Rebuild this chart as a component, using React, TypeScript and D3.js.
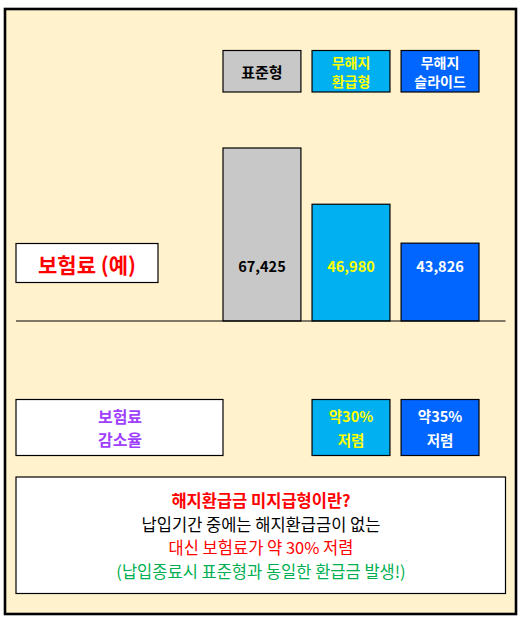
import React from "react";
import * as d3 from "d3";

// 상품 구분 (범례 박스에 두 줄로 표시)
const productNames: string[][] = [["표준형"], ["무해지", "환급형"], ["무해지", "슬라이드"]];
// 보험료 (예) 값
const premiums: number[] = [67425, 46980, 43826];
// 그림에 그려진 막대 높이 (표준형 = 100 기준, 그림에서 읽음)
const barLevels: number[] = [100, 67.5, 45];
// 보험료 감소율
const reductions: (string[] | null)[] = [null, ["약30%", "저렴"], ["약35%", "저렴"]];
const rowLabel = "보험료 (예)";
const reductionLabel = ["보험료", "감소율"];
const noteLines: string[] = [
  "해지환급금 미지급형이란?",
  "납입기간 중에는 해지환급금이 없는",
  "대신 보험료가 약 30% 저렴",
  "(납입종료시 표준형과 동일한 환급금 발생!)",
];

const W = 529;
const H = 623;
const FONT = "'Noto Sans CJK KR', 'Noto Sans', sans-serif";

const boxFill = ["#c8c8c8", "#00b0f0", "#0066ff"];
const textFill = ["#000000", "#ffff00", "#ffffff"];
const noteColors = ["#ff0000", "#000000", "#ff0000", "#00b050"];
const noteWeights = [700, 400, 400, 400];

const App: React.FC = () => {
  const keys = productNames.map((d) => d.join(" "));
  const x = d3.scaleBand<string>().domain(keys).range([223, 479]).paddingInner(0.125).paddingOuter(0);
  const baseY = 321;
  const y = d3.scaleLinear().domain([0, 100]).range([baseY, 148]);
  const fmt = d3.format(",");

  const legendTop = 50.5;
  const legendH = 41.5;
  const rowY = 263;
  const redTop = 399.5;
  const redH = 56;
  const noteTop = 477;
  const noteH = 116.5;
  const noteY = d3.scaleLinear().domain([0, noteLines.length - 1]).range([500, 571]);

  return (
    <div style={{ position: "absolute", left: 0, top: 0 }}>
      <svg width={W} height={H} style={{ display: "block", background: "#ffffff" }} fontFamily={FONT}>
        <rect x={5} y={9} width={511} height={605} fill="#fff2cc" stroke="#000" strokeWidth={2.6} />

        {/* 범례 박스 */}
        {productNames.map((lines, i) => {
          const bx = x(keys[i])!;
          const cy = legendTop + legendH / 2;
          return (
            <g key={"lg" + i}>
              <rect x={bx} y={legendTop} width={x.bandwidth()} height={legendH} fill={boxFill[i]} stroke="#000" strokeWidth={1.2} />
              {lines.map((t, j) => (
                <text
                  key={j}
                  x={bx + x.bandwidth() / 2}
                  y={cy + (j - (lines.length - 1) / 2) * 19.5}
                  textAnchor="middle"
                  dominantBaseline="central"
                  fontSize={lines.length > 1 ? 14 : 15}
                  fontWeight={700}
                  fill={textFill[i]}
                >
                  {t}
                </text>
              ))}
            </g>
          );
        })}

        {/* 막대 */}
        {barLevels.map((v, i) => (
          <rect
            key={"bar" + i}
            x={x(keys[i])}
            y={y(v)}
            width={x.bandwidth()}
            height={baseY - y(v)}
            fill={boxFill[i]}
            stroke="#000"
            strokeWidth={1.2}
          />
        ))}
        {premiums.map((v, i) => (
          <text
            key={"pv" + i}
            x={x(keys[i])! + x.bandwidth() / 2}
            y={rowY + 2}
            textAnchor="middle"
            dominantBaseline="central"
            fontSize={14.5}
            fontWeight={700}
            fill={textFill[i]}
          >
            {fmt(v)}
          </text>
        ))}
        <line x1={16} x2={505.5} y1={baseY} y2={baseY} stroke="#000" strokeWidth={1.2} />

        {/* 보험료 (예) */}
        <rect x={16} y={243.5} width={142} height={39} fill="#fff" stroke="#000" strokeWidth={1.2} />
        <text x={87} y={rowY + 1} textAnchor="middle" dominantBaseline="central" fontSize={21} fontWeight={700} fill="#ff0000">
          {rowLabel}
        </text>

        {/* 보험료 감소율 */}
        <rect x={16} y={redTop} width={207} height={redH} fill="#fff" stroke="#000" strokeWidth={1.2} />
        {reductionLabel.map((t, j) => (
          <text
            key={"rl" + j}
            x={120}
            y={redTop + redH / 2 + (j - 0.5) * 23.5}
            textAnchor="middle"
            dominantBaseline="central"
            fontSize={16}
            fontWeight={700}
            fill="#a040ff"
          >
            {t}
          </text>
        ))}
        {reductions.map((r, i) =>
          r ? (
            <g key={"rd" + i}>
              <rect x={x(keys[i])} y={redTop} width={x.bandwidth()} height={redH} fill={boxFill[i]} stroke="#000" strokeWidth={1.2} />
              {r.map((t, j) => (
                <text
                  key={j}
                  x={x(keys[i])! + x.bandwidth() / 2}
                  y={redTop + redH / 2 + (j - 0.5) * 23.5}
                  textAnchor="middle"
                  dominantBaseline="central"
                  fontSize={14.5}
                  fontWeight={700}
                  fill={textFill[i]}
                >
                  {t}
                </text>
              ))}
            </g>
          ) : null
        )}

        {/* 설명 박스 */}
        <rect x={16} y={noteTop} width={489.5} height={noteH} fill="#fff" stroke="#000" strokeWidth={1.2} />
        {noteLines.map((t, i) => (
          <text
            key={"nt" + i}
            x={261}
            y={noteY(i)}
            textAnchor="middle"
            dominantBaseline="central"
            fontSize={16.5}
            fontWeight={noteWeights[i]}
            fill={noteColors[i]}
          >
            {t}
          </text>
        ))}
      </svg>
    </div>
  );
};

export default App;
